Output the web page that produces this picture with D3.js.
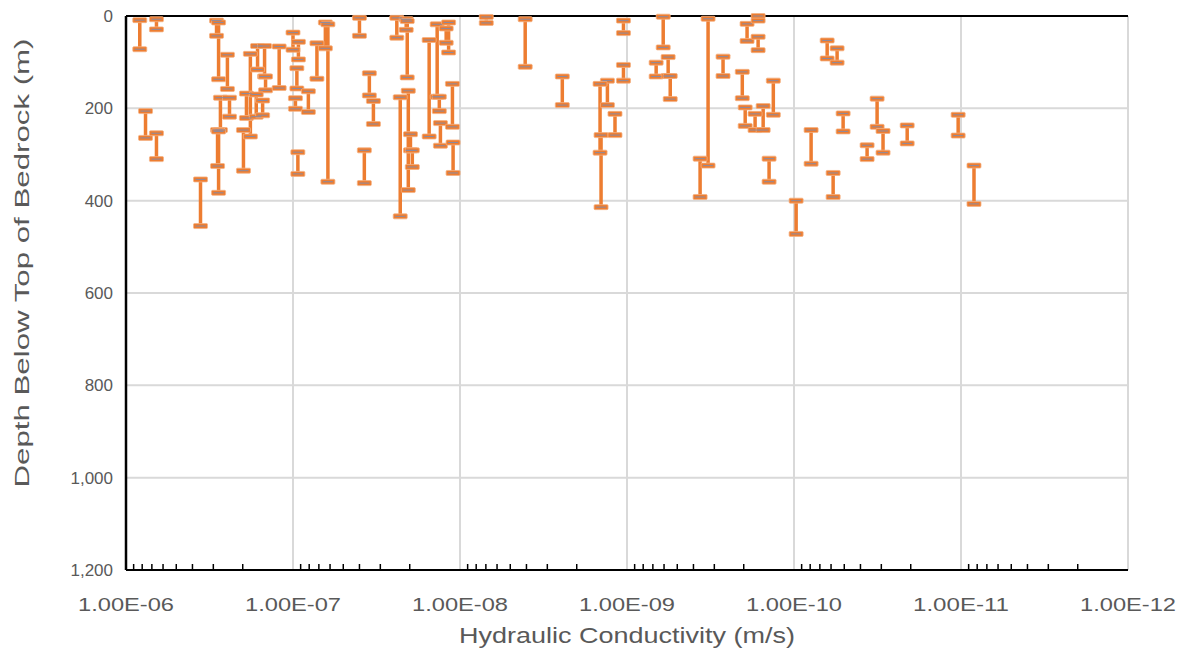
<!DOCTYPE html>
<html>
<head>
<meta charset="utf-8">
<script src="https://cdn.jsdelivr.net/npm/d3@7"></script>
<style>
  body { margin: 0; background: #fff; }
  text { font-family: "Liberation Sans", Arial, sans-serif; }
</style>
</head>
<body>
<svg width="1183" height="653"></svg>
<script>
// hydraulic conductivity of each tested interval (m/s)
const condK = [
  8.27e-7, 6.57e-7, 7.64e-7, 6.57e-7, 3.58e-7, 2.87e-7, 2.79e-7, 2.47e-7, 2.72e-7, 2.40e-7,
  2.83e-7, 2.79e-7, 1.80e-7, 1.90e-7, 1.98e-7, 1.63e-7, 1.48e-7, 1.46e-7, 1.66e-7, 1.52e-7,
  1.21e-7, 1.00e-7, 9.28e-8, 9.48e-8, 9.67e-8, 9.35e-8, 8.09e-8, 7.19e-8, 6.40e-8, 6.18e-8,
  4.00e-8, 3.49e-8, 3.30e-8, 3.74e-8, 2.39e-8, 2.28e-8, 2.10e-8, 2.07e-8, 2.04e-8, 1.98e-8,
  1.93e-8, 1.53e-8, 1.37e-8, 1.33e-8, 1.31e-8, 1.21e-8, 1.17e-8, 1.11e-8, 1.10e-8, 6.96e-9,
  4.07e-9, 2.44e-9, 1.31e-9, 1.45e-9, 1.43e-9, 1.18e-9, 1.05e-9, 1.05e-9, 6.69e-10, 6.07e-10,
  5.67e-10, 5.51e-10, 3.27e-10, 3.65e-10, 2.66e-10, 2.04e-10, 1.91e-10, 1.64e-10, 1.64e-10, 1.33e-10,
  1.96e-10, 1.71e-10, 1.53e-10, 1.41e-10, 9.71e-11, 7.90e-11, 5.83e-11, 6.33e-11, 5.52e-11, 5.08e-11,
  3.65e-11, 3.18e-11, 2.93e-11, 2.10e-11, 1.04e-11, 8.36e-12
];
// top and bottom of each interval (m below top of bedrock)
const depthTop = [
  9, 7, 206, 254, 354, 10, 14, 84, 177, 177,
  247, 250, 82, 168, 247, 65, 65, 131, 170, 183,
  66, 36, 56, 113, 178, 295, 163, 59, 14, 18,
  4, 124, 184, 291, 4, 176, 7, 11, 162, 256,
  291, 52, 18, 175, 232, 27, 14, 147, 274, 2,
  7, 131, 140, 147, 258, 212, 10, 106, 101, 1.5,
  89, 130, 6, 309, 88, 121, 17, 0, 45, 140,
  198, 212, 195, 309, 400, 247, 340, 53, 70, 211,
  280, 179, 249, 237, 214, 324
];
const depthBottom = [
  72, 29, 264, 310, 455, 43, 137, 158, 247, 218,
  325, 383, 261, 221, 335, 116, 131, 161, 218, 215,
  156, 73, 94, 157, 201, 342, 208, 136, 70, 359,
  43, 172, 234, 362, 47, 434, 30, 133, 377, 291,
  327, 261, 175, 206, 281, 58, 79, 240, 340, 15,
  110, 193, 193, 296, 414, 258, 37, 140, 131, 68,
  130, 180, 324, 392, 130, 178, 54, 10, 74, 214,
  238, 247, 247, 359, 472, 320, 392, 92, 101, 250,
  310, 240, 296, 276, 259, 407
];
const xTicks = [1e-6, 1e-7, 1e-8, 1e-9, 1e-10, 1e-11, 1e-12];
const yTicks = [0, 200, 400, 600, 800, 1000, 1200];

const svg = d3.select("svg");
const margin = { top: 16, right: 55, bottom: 83, left: 126 };
const width = +svg.attr("width") - margin.left - margin.right;
const height = +svg.attr("height") - margin.top - margin.bottom;

const g = svg.append("g").attr("transform", `translate(${margin.left},${margin.top})`);

// reversed log axis: 1e-6 on the left
const x = d3.scaleLog().domain([1e-6, 1e-12]).range([0, width]);
const y = d3.scaleLinear().domain([0, 1200]).range([0, height]);

const gridColor = "#d9d9d9";
const orange = "#ed7d31";

// gridlines
g.append("g").selectAll("line").data(yTicks.slice(1, -1)).join("line")
  .attr("x1", 0).attr("x2", width)
  .attr("y1", d => y(d)).attr("y2", d => y(d))
  .attr("stroke", gridColor).attr("stroke-width", 2);
g.append("g").selectAll("line").data(xTicks.slice(1)).join("line")
  .attr("x1", d => x(d)).attr("x2", d => x(d))
  .attr("y1", 0).attr("y2", height)
  .attr("stroke", gridColor).attr("stroke-width", 2);

// minor ticks on the bottom axis
const minor = [];
xTicks.slice(0, -1).forEach(t => { for (let k = 2; k <= 9; k++) minor.push(t / 10 * k); });
g.append("g").selectAll("line").data(minor).join("line")
  .attr("x1", d => x(d)).attr("x2", d => x(d))
  .attr("y1", height - 6).attr("y2", height)
  .attr("stroke", "#000").attr("stroke-width", 1.5);

// frame (top axis line, bottom and left)
g.append("line").attr("x1", 0).attr("x2", width).attr("y1", 0).attr("y2", 0)
  .attr("stroke", "#000").attr("stroke-width", 2);
g.append("line").attr("x1", 0).attr("x2", width).attr("y1", height).attr("y2", height)
  .attr("stroke", "#000").attr("stroke-width", 2);
g.append("line").attr("x1", 0).attr("x2", 0).attr("y1", 0).attr("y2", height)
  .attr("stroke", "#000").attr("stroke-width", 2.5);

// tick labels
const fmtE = v => {
  const [m, e] = v.toExponential(2).split("e");
  const n = Math.abs(+e);
  return m + "E" + (+e < 0 ? "-" : "+") + (n < 10 ? "0" + n : n);
};
g.append("g").selectAll("text").data(xTicks).join("text")
  .attr("x", d => x(d)).attr("y", height + 41)
  .attr("text-anchor", "middle").attr("font-size", 19).attr("fill", "#595959")
  .attr("textLength", 96).attr("lengthAdjust", "spacingAndGlyphs")
  .text(fmtE);
g.append("g").selectAll("text").data(yTicks).join("text")
  .attr("x", -13).attr("y", d => y(d) + 6)
  .attr("text-anchor", "end").attr("font-size", 17).attr("fill", "#595959")
  .text(d3.format(","));

// axis titles
svg.append("text")
  .attr("x", margin.left + width / 2).attr("y", 643)
  .attr("text-anchor", "middle").attr("font-size", 22).attr("fill", "#595959")
  .attr("textLength", 336).attr("lengthAdjust", "spacingAndGlyphs")
  .text("Hydraulic Conductivity (m/s)");
svg.append("text")
  .attr("transform", "translate(29,263) rotate(-90)")
  .attr("text-anchor", "middle").attr("font-size", 21).attr("fill", "#595959")
  .attr("textLength", 449).attr("lengthAdjust", "spacingAndGlyphs")
  .text("Depth Below Top of Bedrock (m)");

// intervals
const bars = condK.map((k, i) => ({ k, d1: depthTop[i], d2: depthBottom[i] }));
const bg = g.append("g");
bg.selectAll("line.v").data(bars).join("line").attr("class", "v")
  .attr("x1", d => x(d.k)).attr("x2", d => x(d.k))
  .attr("y1", d => y(d.d1)).attr("y2", d => y(d.d2))
  .attr("stroke", orange).attr("stroke-width", 3.5);

const ends = bars.flatMap(b => [{ k: b.k, d: b.d1 }, { k: b.k, d: b.d2 }]);
bg.selectAll("rect.cap").data(ends).join("rect").attr("class", "cap")
  .attr("x", d => x(d.k) - 7).attr("y", d => y(d.d) - 2.5)
  .attr("width", 14).attr("height", 5).attr("rx", 1)
  .attr("fill", orange).attr("stroke", "#f4b183").attr("stroke-width", 0.8);
bg.selectAll("line.dash").data(ends).join("line").attr("class", "dash")
  .attr("x1", d => x(d.k) - 5).attr("x2", d => x(d.k) + 5)
  .attr("y1", d => y(d.d)).attr("y2", d => y(d.d))
  .attr("stroke", "#8a8aa0").attr("stroke-width", 1);
</script>
</body>
</html>
